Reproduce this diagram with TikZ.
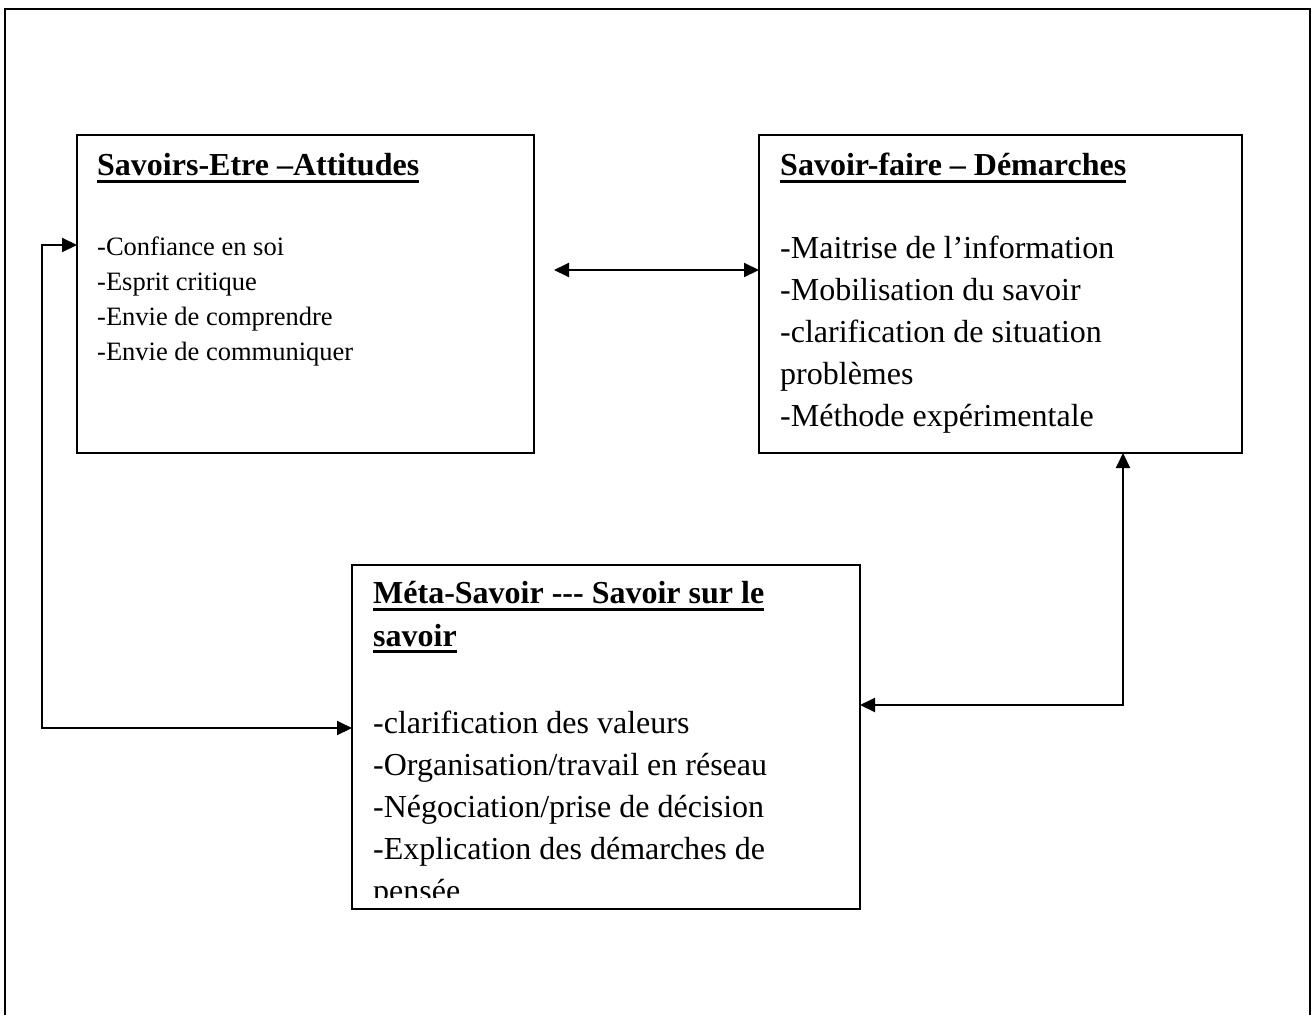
\documentclass[tikz,border=0pt]{standalone}
\usepackage{fontspec}
\setmainfont{Liberation Serif}
\usetikzlibrary{arrows.meta}
\begin{document}
\begin{tikzpicture}[x=1pt,y=-1pt,
 box/.style={draw,line width=2pt,rectangle,inner sep=0pt,outer sep=0pt},
 ttl/.style={anchor=base west,inner sep=0pt,font=\fontsize{32}{36}\selectfont\bfseries},
 itm/.style={anchor=base west,inner sep=0pt,font=\fontsize{32}{36}\selectfont},
 itms/.style={anchor=base west,inner sep=0pt,font=\fontsize{26.5}{30}\selectfont},
 conn/.style={line width=2pt,{Triangle[length=15pt,width=14pt]}-{Triangle[length=15pt,width=14pt]}},
 uline/.style={line width=3pt}]
\useasboundingbox (0,0) rectangle (1312,1015);
\fill[white] (0,0) rectangle (1312,1015);
\draw[line width=2pt] (5,1015) -- (5,9) -- (1310,9) -- (1310,1015);

\node[box,minimum width=457pt,minimum height=318pt] (A) at (305.5,294) {};
\node[box,minimum width=483pt,minimum height=318pt] (B) at (1000.5,294) {};
\node[box,minimum width=508pt,minimum height=344pt] (C) at (606,737) {};

% Box A
\node[ttl] (ta) at (97,175) {Savoirs-Etre –Attitudes};
\draw[uline] ([yshift=-6pt]ta.base west) -- ([yshift=-6pt]ta.base east);
\node[itms] (a1) at (97,255) {-Confiance en soi};
\node[itms] (a2) at (97,290) {-Esprit critique};
\node[itms] (a3) at (97,325) {-Envie de comprendre};
\node[itms] (a4) at (97,360) {-Envie de communiquer};

% Box B
\node[ttl] (tb) at (780,175) {Savoir-faire – Démarches};
\draw[uline] ([yshift=-6pt]tb.base west) -- ([yshift=-6pt]tb.base east);
\node[itm] (b1) at (780,258) {-Maitrise de l’information};
\node[itm] (b2) at (780,300) {-Mobilisation du savoir};
\node[itm] (b3) at (780,342) {-clarification de situation};
\node[itm] (b4) at (780,384) {problèmes};
\node[itm] (b5) at (780,426) {-Méthode expérimentale};

% Box C
\node[ttl] (tc1) at (373,603) {Méta-Savoir -{}-{}- Savoir sur le};
\draw[uline] ([yshift=-6pt]tc1.base west) -- ([yshift=-6pt]tc1.base east);
\node[ttl] (tc2) at (373,646) {savoir};
\draw[uline] ([yshift=-5pt]tc2.base west) -- ([yshift=-5pt]tc2.base east);
\node[itm] (c1) at (373,733) {-clarification des valeurs};
\node[itm] (c2) at (373,775) {-Organisation/travail en réseau};
\node[itm] (c3) at (373,817) {-Négociation/prise de décision};
\node[itm] (c4) at (373,859) {-Explication des démarches de};
\begin{scope}
\clip (352,565) rectangle (860,897);
\node[itm] (c5) at (373,901) {pensée};
\end{scope}

% Connectors
\coordinate (dl) at (554,270);
\draw[conn] (dl) -- (dl -| B.west);

\coordinate (la) at (42,245);
\coordinate (lc) at (42,728);
\draw[conn] (la -| A.west) -- (la) -- (lc) -- (lc -| C.west);

\coordinate (rc) at (1123,705);
\draw[conn] (rc -| C.east) -- (rc) -- (rc |- B.south);
\end{tikzpicture}
\end{document}
